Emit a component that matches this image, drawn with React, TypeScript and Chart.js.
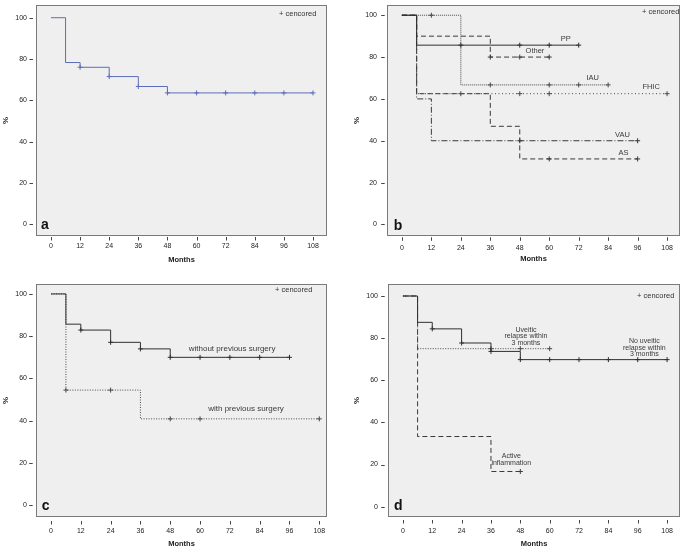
import React, { useEffect, useRef } from 'react';
import { Chart, registerables } from 'chart.js';
Chart.register(...registerables);

const FONT = "'Liberation Sans', Arial, Helvetica, sans-serif";

const monthTicks = [0, 12, 24, 36, 48, 60, 72, 84, 96, 108];
const percentTicks = [0, 20, 40, 60, 80, 100];

// Panel a: overall
const aTimes = [0, 6, 12, 24, 36, 48, 108];
const aSurvival = [100, 78.3, 76.0, 71.5, 66.7, 63.6, 63.6];
const aCensored = [12, 24, 36, 48, 60, 72, 84, 96, 108];

// Panel b: by diagnosis
const ppTimes = [0, 6, 72];
const ppSurvival = [100, 85.7, 85.7];
const ppCensored = [24, 48, 60, 72];
const otherTimes = [0, 6, 36, 60];
const otherSurvival = [100, 90, 80, 80];
const otherCensored = [36, 48, 60];
const iauTimes = [0, 24, 84];
const iauSurvival = [100, 66.7, 66.7];
const iauCensored = [12, 36, 60, 72, 84];
const fhicTimes = [0, 6, 108];
const fhicSurvival = [100, 62.5, 62.5];
const fhicCensored = [24, 48, 60, 108];
const vauTimes = [0, 6, 12, 96];
const vauSurvival = [100, 60, 40, 40];
const vauCensored = [48, 96];
const asTimes = [0, 6, 36, 48, 96];
const asSurvival = [100, 62.5, 46.9, 31.3, 31.3];
const asCensored = [60, 96];

// Panel c: previous surgery
const noSurgTimes = [0, 6, 12, 24, 36, 48, 96];
const noSurgSurvival = [100, 85.7, 82.9, 77.1, 74.0, 70.0, 70.0];
const noSurgCensored = [12, 24, 36, 48, 60, 72, 84, 96];
const surgTimes = [0, 6, 36, 108];
const surgSurvival = [100, 54.5, 40.9, 40.9];
const surgCensored = [6, 24, 48, 60, 108];

// Panel d: uveitic relapse / inflammation
const noRelTimes = [0, 6, 12, 24, 36, 48, 108];
const noRelSurvival = [100, 87.5, 84.4, 77.7, 73.7, 69.8, 69.8];
const noRelCensored = [12, 24, 36, 48, 60, 72, 84, 96, 108];
const relTimes = [0, 6, 60];
const relSurvival = [100, 75, 75];
const relCensored = [36, 48, 60];
const activeTimes = [0, 6, 36, 48];
const activeSurvival = [100, 33.3, 16.7, 16.7];
const activeCensored = [48];

type Series = { times: number[]; surv: number[]; cens: number[]; color: string; dash: number[] };
type Label = { lines: string[]; x: number; y: number; size: number; lh: number };
type PanelCfg = {
  letter: string; left: number; top: number; w: number; h: number;
  area: { l: number; r: number; t: number; b: number };
  xMin: number; xMax: number; yMin: number; yMax: number;
  xLabelPad: number; yLabelPad: number; xTitlePad: number; yTitlePad: number;
  xGap: number; yGap: number; letterPos: [number, number]; censPos: [number, number];
  series: Series[]; labels: Label[];
};

const SOLID = '#2f2f2f';
const DASHC = '#3a3a3a';
const DOTC = '#4a4a4a';

const panels: PanelCfg[] = [
  {
    letter: 'a', left: 0, top: 0, w: 342, h: 270,
    area: { l: 36, r: 327, t: 5, b: 236 },
    xMin: -6.18, xMax: 113.77, yMin: -5.66, yMax: 106.15,
    xLabelPad: 5.9, yLabelPad: 9, xTitlePad: 5.5, yTitlePad: 1.2,
    xGap: 1, yGap: 3, letterPos: [41, 229], censPos: [279, 14],
    series: [{ times: aTimes, surv: aSurvival, cens: aCensored, color: '#5d6cb8', dash: [] }],
    labels: [],
  },
  {
    letter: 'b', left: 342, top: 0, w: 343, h: 270,
    area: { l: 45, r: 340, t: 3, b: 236 },
    xMin: -6.07, xMax: 113.26, yMin: -5.55, yMax: 104.9,
    xLabelPad: 7.5, yLabelPad: 10, xTitlePad: 6.2, yTitlePad: 10.2,
    xGap: 1.3, yGap: 2.3, letterPos: [51.7, 230], censPos: [300, 12],
    series: [
      { times: ppTimes, surv: ppSurvival, cens: ppCensored, color: SOLID, dash: [] },
      { times: otherTimes, surv: otherSurvival, cens: otherCensored, color: DASHC, dash: [5, 3] },
      { times: iauTimes, surv: iauSurvival, cens: iauCensored, color: DOTC, dash: [1, 1] },
      { times: fhicTimes, surv: fhicSurvival, cens: fhicCensored, color: DOTC, dash: [1, 2.5] },
      { times: vauTimes, surv: vauSurvival, cens: vauCensored, color: DASHC, dash: [6, 2, 1, 2] },
      { times: asTimes, surv: asSurvival, cens: asCensored, color: DASHC, dash: [5, 3] },
    ],
    labels: [
      { lines: ['PP'], x: 66.7, y: 88.8, size: 7.5, lh: 8 },
      { lines: ['Other'], x: 54.2, y: 83.1, size: 7.5, lh: 8 },
      { lines: ['IAU'], x: 77.7, y: 69.8, size: 7.5, lh: 8 },
      { lines: ['FHIC'], x: 101.5, y: 65.5, size: 7.5, lh: 8 },
      { lines: ['VAU'], x: 89.8, y: 42.8, size: 7.5, lh: 8 },
      { lines: ['AS'], x: 90.2, y: 34.3, size: 7.5, lh: 8 },
    ],
  },
  {
    letter: 'c', left: 0, top: 270, w: 342, h: 278,
    area: { l: 36, r: 327, t: 14, b: 247 },
    xMin: -6.04, xMax: 111.1, yMin: -5.54, yMax: 104.7,
    xLabelPad: 9.6, yLabelPad: 9, xTitlePad: 0, yTitlePad: 1.2,
    xGap: 4, yGap: 3.3, letterPos: [41.7, 240], censPos: [275, 20],
    series: [
      { times: noSurgTimes, surv: noSurgSurvival, cens: noSurgCensored, color: SOLID, dash: [] },
      { times: surgTimes, surv: surgSurvival, cens: surgCensored, color: DOTC, dash: [1, 1.5] },
    ],
    labels: [
      { lines: ['without previous surgery'], x: 72.9, y: 74.0, size: 8, lh: 8 },
      { lines: ['with previous surgery'], x: 78.5, y: 45.6, size: 8, lh: 8 },
    ],
  },
  {
    letter: 'd', left: 342, top: 270, w: 343, h: 278,
    area: { l: 46, r: 340, t: 14, b: 247 },
    xMin: -6.09, xMax: 113.28, yMin: -4.9, yMax: 105.7,
    xLabelPad: 9.6, yLabelPad: 10, xTitlePad: 0, yTitlePad: 10.2,
    xGap: 3, yGap: 3.3, letterPos: [52, 240], censPos: [295, 26],
    series: [
      { times: noRelTimes, surv: noRelSurvival, cens: noRelCensored, color: SOLID, dash: [] },
      { times: relTimes, surv: relSurvival, cens: relCensored, color: DOTC, dash: [1, 1.5] },
      { times: activeTimes, surv: activeSurvival, cens: activeCensored, color: DASHC, dash: [5, 3] },
    ],
    labels: [
      { lines: ['Uveitic', 'relapse within', '3 months'], x: 50.3, y: 83.9, size: 7, lh: 6.5 },
      { lines: ['No uveitic', 'relapse within', '3 months'], x: 98.7, y: 78.6, size: 7, lh: 6.5 },
      { lines: ['Active', 'inflammation'], x: 44.3, y: 24.1, size: 7, lh: 7 },
    ],
  },
];

function valueAt(times: number[], surv: number[], t: number) {
  let v = surv[0];
  for (let i = 0; i < times.length; i++) if (times[i] <= t) v = surv[i];
  return v;
}

function buildConfig(cfg: PanelCfg): any {
  const datasets: any[] = [];
  cfg.series.forEach((s) => {
    datasets.push({
      data: s.times.map((t, i) => ({ x: t, y: s.surv[i] })),
      stepped: 'before',
      borderColor: s.color,
      borderWidth: 1,
      borderDash: s.dash,
      pointRadius: 0,
      fill: false,
    });
    datasets.push({
      data: s.cens.map((t) => ({ x: t, y: valueAt(s.times, s.surv, t) })),
      showLine: false,
      pointStyle: 'cross',
      pointRadius: 2.5,
      pointBorderWidth: 1,
      pointBorderColor: s.color,
      borderColor: s.color,
    });
  });

  const decor = {
    id: 'decor',
    beforeDraw(chart: any) {
      const { ctx, chartArea: a } = chart;
      ctx.save();
      ctx.fillStyle = '#efefef';
      ctx.fillRect(a.left, a.top, a.right - a.left, a.bottom - a.top);
      ctx.restore();
    },
    beforeDatasetsDraw(chart: any) {
      const { ctx, chartArea: a, scales } = chart;
      ctx.save();
      ctx.strokeStyle = '#7a7a7a';
      ctx.lineWidth = 1;
      ctx.strokeRect(a.left + 0.5, a.top + 0.5, a.right - a.left - 1, a.bottom - a.top - 1);
      ctx.strokeStyle = '#444';
      ctx.beginPath();
      for (const v of monthTicks) {
        const px = Math.round(scales.x.getPixelForValue(v)) + 0.5;
        ctx.moveTo(px, a.bottom + cfg.xGap);
        ctx.lineTo(px, a.bottom + cfg.xGap + 3.5);
      }
      for (const v of percentTicks) {
        const py = Math.round(scales.y.getPixelForValue(v)) + 0.5;
        ctx.moveTo(a.left - cfg.yGap, py);
        ctx.lineTo(a.left - cfg.yGap - 3.5, py);
      }
      ctx.stroke();
      ctx.restore();
    },
    afterDraw(chart: any) {
      const { ctx, scales } = chart;
      ctx.save();
      ctx.fillStyle = '#111';
      ctx.font = `bold 14px ${FONT}`;
      ctx.textAlign = 'left';
      ctx.textBaseline = 'alphabetic';
      ctx.fillText(cfg.letter, cfg.letterPos[0], cfg.letterPos[1]);
      ctx.fillStyle = '#333';
      ctx.font = `7.5px ${FONT}`;
      ctx.textBaseline = 'middle';
      ctx.fillText('+ cencored', cfg.censPos[0], cfg.censPos[1]);
      ctx.textAlign = 'center';
      ctx.fillStyle = '#3a3a3a';
      for (const lab of cfg.labels) {
        ctx.font = `${lab.size}px ${FONT}`;
        const px = scales.x.getPixelForValue(lab.x);
        const py = scales.y.getPixelForValue(lab.y);
        lab.lines.forEach((line, i) => ctx.fillText(line, px, py + i * lab.lh));
      }
      ctx.restore();
    },
  };

  return {
    type: 'line',
    data: { datasets },
    plugins: [decor],
    options: {
      responsive: false,
      animation: false,
      devicePixelRatio: 1,
      events: [],
      layout: { padding: { left: 0, top: cfg.area.t, right: cfg.w - cfg.area.r, bottom: 0 } },
      plugins: { legend: { display: false }, tooltip: { enabled: false } },
      scales: {
        x: {
          type: 'linear',
          min: cfg.xMin,
          max: cfg.xMax,
          afterBuildTicks: (s: any) => { s.ticks = monthTicks.map((v) => ({ value: v })); },
          afterFit: (s: any) => { s.height = cfg.h - cfg.area.b; s.paddingLeft = 0; s.paddingRight = 0; },
          grid: { display: false, drawTicks: false },
          border: { display: false },
          ticks: { autoSkip: false, maxRotation: 0, padding: cfg.xLabelPad, color: '#222', font: { family: FONT, size: 7 } },
          title: { display: true, text: 'Months', color: '#222', font: { family: FONT, size: 7.5, weight: 'bold' }, padding: { top: 0, bottom: cfg.xTitlePad } },
        },
        y: {
          type: 'linear',
          min: cfg.yMin,
          max: cfg.yMax,
          afterBuildTicks: (s: any) => { s.ticks = percentTicks.map((v) => ({ value: v })); },
          afterFit: (s: any) => { s.width = cfg.area.l; s.paddingTop = 0; s.paddingBottom = 0; },
          grid: { display: false, drawTicks: false },
          border: { display: false },
          ticks: { autoSkip: false, padding: cfg.yLabelPad, color: '#222', font: { family: FONT, size: 7 } },
          title: { display: true, text: '%', color: '#222', font: { family: FONT, size: 8, weight: 'bold' }, padding: { top: cfg.yTitlePad, bottom: 0 } },
        },
      },
    },
  };
}

function Panel({ cfg }: { cfg: PanelCfg }) {
  const ref = useRef<HTMLCanvasElement>(null);
  useEffect(() => {
    const chart = new Chart(ref.current as HTMLCanvasElement, buildConfig(cfg));
    return () => chart.destroy();
  }, [cfg]);
  return (
    <canvas
      ref={ref}
      width={cfg.w}
      height={cfg.h}
      style={{ position: 'absolute', left: cfg.left, top: cfg.top, width: cfg.w, height: cfg.h, display: 'block' }}
    />
  );
}

export default function App() {
  return (
    <div style={{ position: 'absolute', left: 0, top: 0, width: 685, height: 548, background: '#fff', overflow: 'hidden' }}>
      {panels.map((p) => (
        <Panel key={p.letter} cfg={p} />
      ))}
    </div>
  );
}
